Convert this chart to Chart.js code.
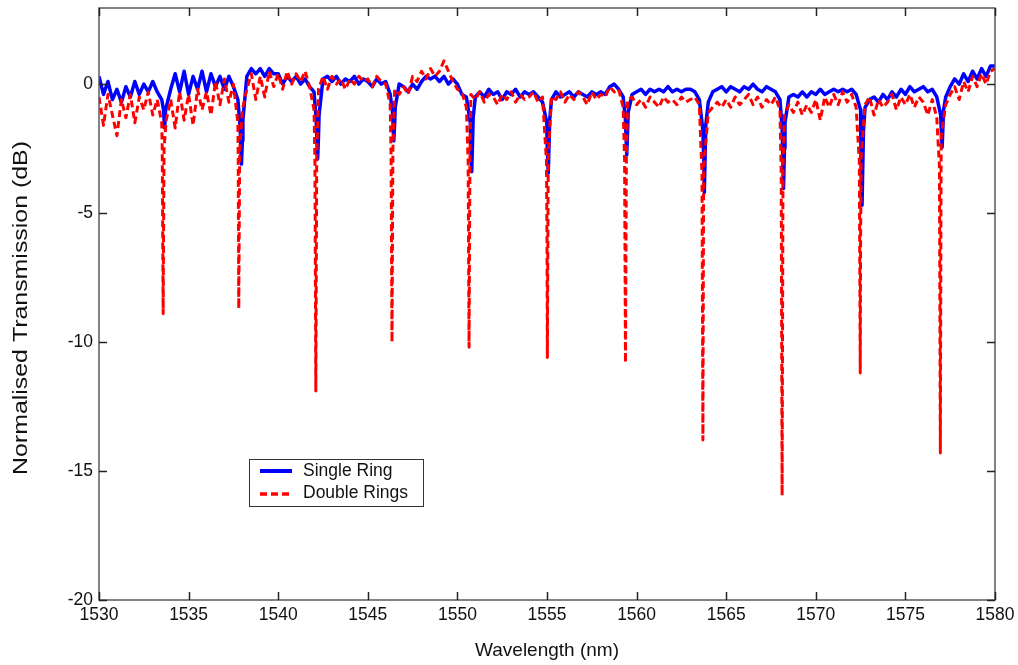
<!DOCTYPE html>
<html>
<head>
<meta charset="utf-8">
<script src="https://cdn.jsdelivr.net/npm/chart.js@4.4.1/dist/chart.umd.min.js"></script>
<style>
  html, body { margin: 0; padding: 0; background: #fff; }
</style>
</head>
<body>
<canvas id="transmission-chart" width="1018" height="665"></canvas>
<script>
// wavelength grid: 1530 nm to 1580 nm in 0.25 nm steps
const gridStart = 1530;
const gridStep = 0.25;

// background transmission, one row per nm (dB)
const singleRingBase = [
  0.3, -0.4, 0.1, -0.6,
  -0.2, -0.7, -0.1, -0.5,
  0.1, -0.4, 0.0, -0.3,
  0.1, -0.3, -0.6, -0.9,
  -0.2, 0.4, -0.3, 0.5,
  -0.4, 0.3, -0.2, 0.5,
  -0.3, 0.4, -0.1, 0.3,
  -0.2, 0.3, -0.1, -0.6,
  -2.2, 0.3, 0.6, 0.4,
  0.6, 0.3, 0.6, 0.4,
  0.4, 0.0, 0.3, 0.1,
  0.3, 0.0, 0.2, -0.1,
  -0.3, -2.0, 0.2, 0.3,
  0.1, 0.3, 0.0, 0.2,
  0.1, 0.3, 0.0, 0.2,
  0.1, -0.1, 0.2, 0.0,
  0.1, -0.4, -1.5, 0.0,
  -0.1, -0.3, 0.0, -0.2,
  0.1, 0.3, 0.2, 0.3,
  0.1, 0.3, 0.0, 0.2,
  0.0, -0.4, -0.5, -2.4,
  -0.5, -0.3, -0.5, -0.2,
  -0.4, -0.3, -0.6, -0.3,
  -0.4, -0.2, -0.5, -0.3,
  -0.4, -0.3, -0.5, -0.7,
  -2.2, -0.6, -0.3, -0.5,
  -0.4, -0.3, -0.5, -0.3,
  -0.4, -0.5, -0.3, -0.4,
  -0.3, -0.4, -0.1, 0.0,
  -0.2, -0.5, -1.8, -0.4,
  -0.3, -0.2, -0.4, -0.2,
  -0.3, -0.2, -0.3, -0.1,
  -0.3, -0.2, -0.3, -0.2,
  -0.2, -0.3, -0.6, -3.0,
  -0.7, -0.3, -0.2, -0.1,
  -0.3, -0.1, -0.2, -0.3,
  -0.1, -0.2, 0.0, -0.2,
  -0.3, -0.1, -0.2, -0.3,
  -0.6, -2.5, -0.5, -0.4,
  -0.5, -0.3, -0.5, -0.3,
  -0.4, -0.2, -0.4, -0.3,
  -0.2, -0.3, -0.2, -0.3,
  -0.2, -0.4, -1.0, -0.9,
  -0.6, -0.5, -0.7, -0.4,
  -0.6, -0.3, -0.5, -0.2,
  -0.4, -0.1, -0.3, -0.2,
  -0.1, -0.3, -0.2, -0.5,
  -1.8, -0.5, -0.1, 0.2,
  0.0, 0.4, 0.1, 0.5,
  0.2, 0.6, 0.3, 0.7,
  0.7
];

const doubleRingsBase = [
  -0.5, -1.6, -0.4, -1.2,
  -2.0, -0.6, -1.3, -0.4,
  -1.5, -0.5, -1.0, -0.3,
  -1.2, -0.6, -1.5, -1.4,
  -0.6, -1.7, -0.3, -1.4,
  -0.4, -1.6, -0.2, -1.0,
  -0.3, -1.2, 0.1, -0.8,
  0.2, -0.7, 0.0, -1.5,
  -1.0, -0.2, 0.4, -0.6,
  0.3, -0.5, 0.5, -0.1,
  0.4, -0.2, 0.5, 0.0,
  0.4, 0.1, 0.5, -0.1,
  -1.0, -0.2, 0.3, -0.2,
  0.3, 0.0, 0.2, -0.2,
  0.2, 0.0, 0.3, 0.1,
  0.2, -0.1, 0.3, 0.1,
  0.0, -0.8, -0.2, -0.4,
  -0.1, -0.4, 0.3, 0.1,
  0.5, 0.2, 0.6, 0.3,
  0.5, 0.9, 0.5, 0.1,
  -0.2, -0.3, -0.9, -0.4,
  -0.6, -0.3, -0.7, -0.4,
  -0.5, -0.8, -0.4, -0.6,
  -0.3, -0.7, -0.4, -0.6,
  -0.5, -0.3, -0.7, -0.5,
  -6.0, -0.5, -0.6, -0.3,
  -0.7, -0.4, -0.6, -0.3,
  -0.5, -0.8, -0.3, -0.6,
  -0.4, -0.5, -0.1, -0.3,
  -0.2, -0.9, -0.6, -0.5,
  -0.8, -0.6, -0.9, -0.5,
  -0.7, -0.9, -0.5, -0.7,
  -0.6, -0.8, -0.5, -0.7,
  -0.6, -0.5, -0.8, -3.2,
  -1.1, -0.9, -0.7, -0.9,
  -0.6, -0.9, -0.5, -0.8,
  -0.6, -0.4, -0.8, -0.5,
  -0.9, -0.6, -0.8, -0.5,
  -1.0, -1.2, -0.8, -1.1,
  -0.7, -1.2, -0.8, -1.1,
  -0.6, -1.4, -0.5, -0.9,
  -0.4, -0.8, -0.3, -0.7,
  -0.4, -0.9, -6.0, -0.8,
  -0.5, -1.2, -0.6, -0.9,
  -0.7, -0.4, -1.0, -0.5,
  -0.8, -0.4, -0.9, -0.5,
  -0.7, -1.2, -0.6, -1.3,
  -2.0, -0.8, -0.4, -0.1,
  -0.6, 0.1, -0.3, 0.3,
  -0.1, 0.4, 0.0, 0.5,
  0.6
];

// resonance dips: shoulder, minimum, shoulder
const singleDipWl = [
  1533.60, 1533.66, 1533.72, 1537.87, 1537.95, 1538.03, 1542.12, 1542.20, 1542.28,
  1546.38, 1546.45, 1546.53, 1550.72, 1550.80, 1550.88, 1554.99, 1555.07, 1555.15,
  1559.37, 1559.45, 1559.53, 1563.70, 1563.78, 1563.86, 1568.12, 1568.20, 1568.28,
  1572.52, 1572.58, 1572.66, 1576.97, 1577.05, 1577.13
];
const singleDipDb = [
  -1.0, -1.7, -1.0, -1.6, -3.1, -1.4, -1.4, -2.9, -1.2,
  -1.1, -2.2, -0.9, -1.5, -3.4, -1.3, -1.5, -3.45, -1.4,
  -1.3, -2.75, -1.1, -1.8, -4.2, -1.6, -1.7, -4.05, -1.5,
  -2.8, -4.7, -1.8, -1.2, -2.45, -1.0
];
const doubleDipWl = [
  1533.53, 1533.58, 1533.63, 1537.77, 1537.80, 1537.85, 1542.05, 1542.10, 1542.15,
  1546.30, 1546.35, 1546.40, 1550.60, 1550.65, 1550.70, 1554.97, 1555.02, 1555.07,
  1559.33, 1559.38, 1559.43, 1563.65, 1563.70, 1563.74, 1568.07, 1568.12, 1568.17,
  1572.43, 1572.48, 1572.53, 1576.90, 1576.95, 1576.99
];
const doubleDipDb = [
  -2.5, -8.9, -2.5, -3.0, -8.7, -2.6, -3.0, -11.9, -2.8,
  -2.8, -10.0, -2.5, -3.0, -10.2, -2.8, -3.0, -10.6, -2.8,
  -3.0, -10.8, -2.8, -3.5, -13.8, -3.4, -3.5, -15.95, -3.2,
  -3.0, -11.2, -2.8, -3.2, -14.3, -3.2
];

const xTickLabels = [1530, 1535, 1540, 1545, 1550, 1555, 1560, 1565, 1570, 1575, 1580];
const yTickLabels = [-20, -15, -10, -5, 0];

function buildSeries(base, dipWl, dipDb) {
  const pts = base.map((v, i) => ({ x: gridStart + i * gridStep, y: v }));
  dipWl.forEach((w, i) => pts.push({ x: w, y: dipDb[i] }));
  return pts.sort((a, b) => a.x - b.x);
}

const FONT = "'Liberation Sans', Arial, sans-serif";
Chart.defaults.font.family = FONT;
Chart.defaults.color = "#111";

// box, inward ticks on all four sides, y title and the legend inside the plot
const framePlugin = {
  id: "frame",
  afterDraw(chart) {
    const { ctx, chartArea: a, scales } = chart;
    const xs = scales.x, ys = scales.y;
    ctx.save();
    ctx.strokeStyle = "#5a5a5a";
    ctx.lineWidth = 1.5;
    ctx.strokeRect(a.left, a.top, a.right - a.left, a.bottom - a.top);

    ctx.strokeStyle = "#222";
    ctx.lineWidth = 1.5;
    ctx.beginPath();
    xTickLabels.forEach(v => {
      const px = Math.round(xs.getPixelForValue(v)) + 0.5;
      ctx.moveTo(px, a.bottom); ctx.lineTo(px, a.bottom - 8);
      ctx.moveTo(px, a.top); ctx.lineTo(px, a.top + 8);
    });
    yTickLabels.forEach(v => {
      const py = Math.round(ys.getPixelForValue(v)) + 0.5;
      ctx.moveTo(a.left, py); ctx.lineTo(a.left + 8, py);
      ctx.moveTo(a.right, py); ctx.lineTo(a.right - 8, py);
    });
    ctx.stroke();

    // y axis title, drawn a little stretched along its length like the original
    ctx.save();
    ctx.translate(21, (a.top + a.bottom) / 2 + 4);
    ctx.rotate(-Math.PI / 2);
    ctx.scale(1.245, 1);
    ctx.font = "20px " + FONT;
    ctx.fillStyle = "#111";
    ctx.textAlign = "center";
    ctx.textBaseline = "middle";
    ctx.fillText("Normalised Transmission (dB)", 0, 0);
    ctx.restore();

    // legend
    const lx = 249, ly = 459, lw = 174, lh = 47;
    ctx.fillStyle = "#fff";
    ctx.fillRect(lx, ly, lw, lh);
    ctx.strokeStyle = "#333";
    ctx.lineWidth = 1;
    ctx.strokeRect(lx + 0.5, ly + 0.5, lw, lh);

    ctx.lineWidth = 4;
    ctx.strokeStyle = "#0000ff";
    ctx.beginPath(); ctx.moveTo(260, 471); ctx.lineTo(292, 471); ctx.stroke();
    ctx.strokeStyle = "#ff0000";
    ctx.lineWidth = 3.5;
    ctx.setLineDash([7, 4]);
    ctx.beginPath(); ctx.moveTo(260, 494); ctx.lineTo(293, 494); ctx.stroke();
    ctx.setLineDash([]);

    ctx.fillStyle = "#111";
    ctx.font = "17.5px " + FONT;
    ctx.textAlign = "left";
    ctx.textBaseline = "middle";
    ctx.fillText("Single Ring", 303, 471);
    ctx.fillText("Double Rings", 303, 493);
    ctx.restore();
  }
};

const config = {
  type: "line",
  data: {
    datasets: [
      {
        label: "Single Ring",
        data: buildSeries(singleRingBase, singleDipWl, singleDipDb),
        borderColor: "#0000ff",
        borderWidth: 3.5,
        pointRadius: 0,
        tension: 0,
        borderJoinStyle: "round",
        order: 1
      },
      {
        label: "Double Rings",
        data: buildSeries(doubleRingsBase, doubleDipWl, doubleDipDb),
        borderColor: "#ff0000",
        borderWidth: 3,
        borderDash: [7, 4],
        pointRadius: 0,
        tension: 0,
        borderJoinStyle: "round",
        order: 0
      }
    ]
  },
  options: {
    responsive: false,
    animation: false,
    layout: { padding: { left: 0, right: 23, top: 8, bottom: 0 } },
    plugins: {
      legend: { display: false },
      tooltip: { enabled: false }
    },
    scales: {
      x: {
        type: "linear",
        min: 1530,
        max: 1580,
        grid: { display: false, drawTicks: false },
        border: { display: false },
        afterBuildTicks: s => { s.ticks = xTickLabels.map(v => ({ value: v })); },
        ticks: {
          autoSkip: false,
          maxRotation: 0,
          padding: 5,
          font: { size: 17.5 },
          callback: v => String(v)
        },
        title: {
          display: true,
          text: "Wavelength (nm)",
          font: { size: 19 },
          padding: { top: 0, bottom: 3 }
        },
        afterFit: s => { s.height = 65; s.paddingLeft = 0; s.paddingRight = 0; }
      },
      y: {
        type: "linear",
        min: -20,
        max: 2.95,
        grid: { display: false, drawTicks: false },
        border: { display: false },
        afterBuildTicks: s => { s.ticks = yTickLabels.map(v => ({ value: v })); },
        ticks: {
          padding: 6,
          font: { size: 17.5 },
          callback: v => String(v)
        },
        title: { display: false },
        afterFit: s => { s.width = 99; s.paddingTop = 0; s.paddingBottom = 0; }
      }
    }
  },
  plugins: [framePlugin]
};

const ctx = document.getElementById("transmission-chart").getContext("2d");
const transmissionChart = new Chart(ctx, config);
</script>
</body>
</html>
